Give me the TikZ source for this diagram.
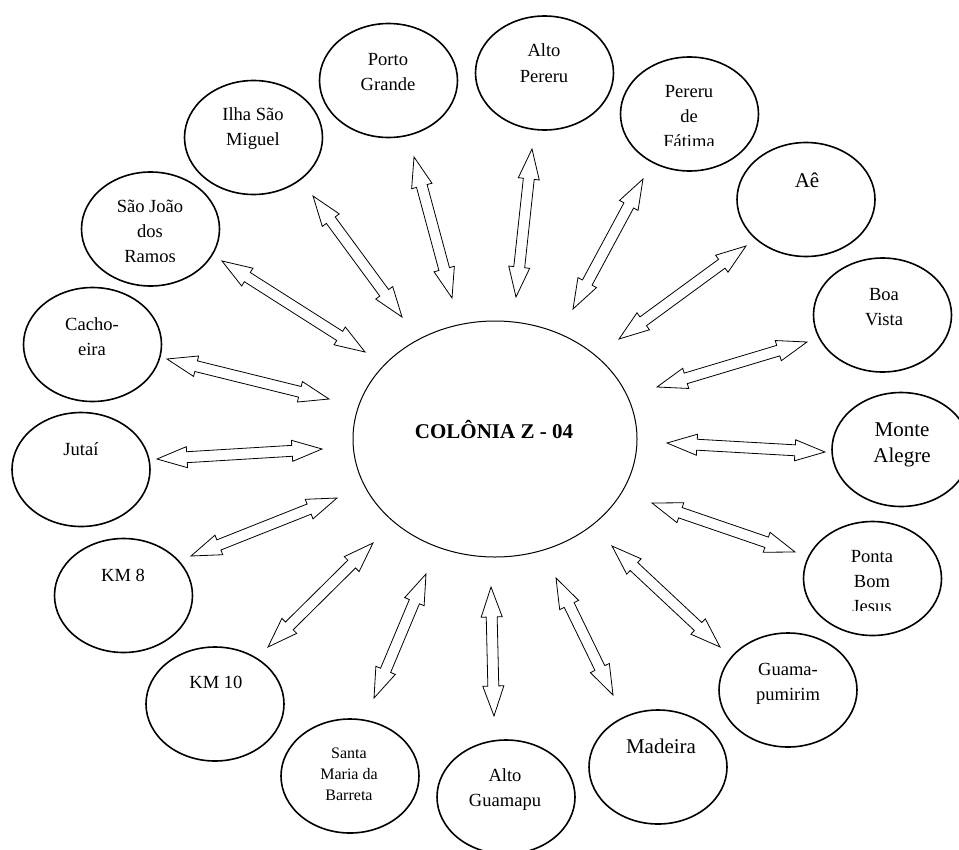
\documentclass[tikz,border=0pt]{standalone}
\usepackage{fontspec}
\setmainfont{Liberation Serif}
\usetikzlibrary{shapes.geometric,calc}
\newcommand\arrHL{22.5pt}
\newcommand\arrHW{7.9pt}
\newcommand\arrSW{4.1pt}
\newcommand\dblarrow[2]{%
  \coordinate (t1) at ($(#1)!\arrHL!(#2)$);
  \coordinate (t2) at ($(#2)!\arrHL!(#1)$);
  \draw[arr] (#1) -- ($(t1)!\arrHW!90:(#2)$) -- ($(t1)!\arrSW!90:(#2)$)
    -- ($(t2)!\arrSW!-90:(#1)$) -- ($(t2)!\arrHW!-90:(#1)$) -- (#2)
    -- ($(t2)!\arrHW!90:(#1)$) -- ($(t2)!\arrSW!90:(#1)$)
    -- ($(t1)!\arrSW!-90:(#2)$) -- ($(t1)!\arrHW!-90:(#2)$) -- cycle;}
\newcommand\lns[1]{\begin{tabular}[t]{@{}c@{}}#1\end{tabular}}
\tikzset{
  place/.style={ellipse, draw, line width=1.2pt, minimum width=103.5pt, minimum height=85.5pt, inner sep=0pt},
  lbl/.style={anchor=base, inner sep=0pt, font=\fontsize{13.9}{18.75}\selectfont},
  lblL/.style={anchor=base, inner sep=0pt, font=\fontsize{15.75}{19.5}\selectfont},
  lblS/.style={anchor=base, inner sep=0pt, font=\fontsize{12}{15.75}\selectfont},
  arr/.style={draw, fill=white, line width=0.6pt, line join=miter},
}
\begin{document}
\begin{tikzpicture}[x=0.75pt,y=-0.75pt]
\useasboundingbox (0,0) rectangle (959,849);
\clip (0,0) rectangle (959,849);

% central
\node[ellipse, draw, line width=0.75pt, minimum width=213pt, minimum height=177pt, inner sep=0pt] (hub) at (495,439) {};
\node[anchor=base, inner sep=0pt, font=\bfseries\fontsize{15.75}{19}\selectfont] (hubT) at (494,438) {COLÔNIA Z - 04};

% outer ellipses
\node[place] (ilha) at (253.5,137.5) {};
\node[place] (porto) at (388.5,80.5) {};
\node[place] (alto) at (544.5,73) {};
\node[place] (pereru) at (689.5,114) {};
\node[place] (ae) at (806,199.5) {};
\node[place] (boa) at (882.5,315) {};
\node[place] (monte) at (901,449.5) {};
\node[place] (ponta) at (872.5,578.5) {};
\node[place] (guama) at (788,690) {};
\node[place] (madeira) at (658,767) {};
\node[place] (altog) at (506,797) {};
\node[place] (santa) at (350,776) {};
\node[place] (kmten) at (215,704) {};
\node[place] (kmeight) at (123.5,595.5) {};
\node[place] (jutai) at (81,469.5) {};
\node[place] (cacho) at (92.5,344.5) {};
\node[place] (saojoao) at (150.5,229) {};

% labels
\node[lbl] (ilhaT) at (253,120) {\lns{Ilha São\\Miguel}};
\node[lbl] (portoT) at (388,65) {\lns{Porto\\Grande}};
\node[lbl] (altoT) at (544,57) {\lns{Alto\\Pereru}};
\begin{scope}
  \clip (600,60) rectangle (780,145.5);
  \node[lbl] (pereruT) at (689,97) {\lns{Pereru\\de\\Fátima}};
\end{scope}
\node[lblL] (aeT) at (807,187) {Aê};
\node[lbl] (boaT) at (884,300) {\lns{Boa\\Vista}};
\node[lblL] (monteT) at (902,436) {\lns{Monte\\Alegre}};
\begin{scope}
  \clip (800,530) rectangle (950,610);
  \node[lbl] (pontaT) at (872,562) {\lns{Ponta\\Bom\\Jesus}};
\end{scope}
\node[lbl] (guamaT) at (788,675) {\lns{Guama-\\pumirim}};
\node[lblL] (madeiraT) at (661,753) {Madeira};
\node[lbl] (altogT) at (505,781) {\lns{Alto\\Guamapu}};
\node[lblS] (santaT) at (349,758) {\lns{Santa\\Maria da\\Barreta}};
\node[lbl] (kmtenT) at (216,688) {KM 10};
\node[lbl] (kmeightT) at (123,581) {KM 8};
\node[lbl] (jutaiT) at (81,455) {Jutaí};
\node[lbl] (cachoT) at (92,330) {\lns{Cacho-\\eira}};
\begin{scope}
  \clip (60,180) rectangle (240,261);
  \node[lbl] (saojoaoT) at (150,212) {\lns{São João\\dos\\Ramos}};
\end{scope}

% arrow end points
\coordinate (a1) at (313,196);  \coordinate (b1) at (402,317);
\coordinate (a2) at (414,157);  \coordinate (b2) at (452,298);
\coordinate (a3) at (532,149);  \coordinate (b3) at (516,297);
\coordinate (a4) at (643,179);  \coordinate (b4) at (573,309);
\coordinate (a5) at (746,246);  \coordinate (b5) at (619,339);
\coordinate (a6) at (807,342);  \coordinate (b6) at (657,387);
\coordinate (a7) at (825,452);  \coordinate (b7) at (667,443);
\coordinate (a8) at (795,552);  \coordinate (b8) at (652,503);
\coordinate (a9) at (720,647);  \coordinate (b9) at (612,546);
\coordinate (a10) at (613,695); \coordinate (b10) at (556,578);
\coordinate (a11) at (494,716); \coordinate (b11) at (491,587);
\coordinate (a12) at (374,698); \coordinate (b12) at (426,574);
\coordinate (a13) at (268,647); \coordinate (b13) at (373,543);
\coordinate (a14) at (191,556); \coordinate (b14) at (337,498);
\coordinate (a15) at (157,459); \coordinate (b15) at (322,449);
\coordinate (a16) at (167,359); \coordinate (b16) at (329,399);
\coordinate (a17) at (222,261); \coordinate (b17) at (365,352);

\dblarrow{a1}{b1}
\dblarrow{a2}{b2}
\dblarrow{a3}{b3}
\dblarrow{a4}{b4}
\dblarrow{a5}{b5}
\dblarrow{a6}{b6}
\dblarrow{a7}{b7}
\dblarrow{a8}{b8}
\dblarrow{a9}{b9}
\dblarrow{a10}{b10}
\dblarrow{a11}{b11}
\dblarrow{a12}{b12}
\dblarrow{a13}{b13}
\dblarrow{a14}{b14}
\dblarrow{a15}{b15}
\dblarrow{a16}{b16}
\dblarrow{a17}{b17}
\end{tikzpicture}
\end{document}
